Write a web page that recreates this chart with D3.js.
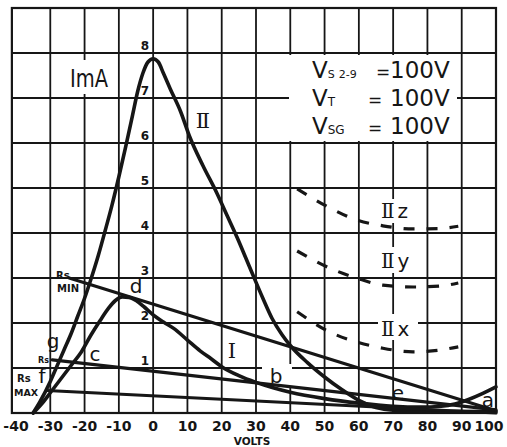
<!DOCTYPE html>
<html lang="en">
<head>
<meta charset="UTF-8">
<title>Tetrode characteristic</title>
<script src="https://d3js.org/d3.v7.min.js"></script>
<style>
  body, html { margin: 0; padding: 0; overflow: hidden; background: #fff; }
  svg { display: block; }
  text { font-family: "DejaVu Sans", sans-serif; fill: #151515; }
  .roman { font-family: "DejaVu Serif", serif; }
</style>
</head>
<body>
<svg width="507" height="447"></svg>
<script>
// ---- data (volts / mA) ----
const xTicks = [-40, -30, -20, -10, 0, 10, 20, 30, 40, 50, 60, 70, 80, 90, 100];
const yTicks = [1, 2, 3, 4, 5, 6, 7, 8];

const voltsII = [-35, -33, -30, -28, -26, -24, -22, -20, -18.5, -16, -14, -12, -10, -8, -6, -4.5, -3, -1.5, 0, 1.5, 3, 5, 8, 10.6, 14.5, 18.5, 21.5, 24.5, 27, 29.2, 32, 34.7, 37.5, 40, 45, 50, 55, 60, 65, 70, 80, 100];
const ampsII  = [0, 0.25, 0.7, 1.05, 1.4, 1.75, 2.15, 2.55, 2.89, 3.5, 4.05, 4.62, 5.25, 5.92, 6.62, 7.15, 7.55, 7.8, 7.87, 7.8, 7.55, 7.2, 6.7, 6.15, 5.5, 4.9, 4.4, 3.9, 3.45, 3.05, 2.55, 2.1, 1.75, 1.5, 1.12, 0.8, 0.52, 0.28, 0.12, 0.06, 0.04, 0.03];

const voltsI = [-35, -32, -30, -27, -24, -21, -18, -15.5, -13, -11, -9, -7, -5, -2.5, 0, 3, 6, 10, 13.7, 17, 20, 25, 30, 35, 40, 50, 60, 70, 78, 84, 88, 92, 96, 100];
const ampsI  = [0, 0.25, 0.45, 0.75, 1.05, 1.35, 1.75, 2.05, 2.33, 2.5, 2.58, 2.57, 2.5, 2.35, 2.18, 2.02, 1.88, 1.62, 1.38, 1.2, 1.03, 0.83, 0.68, 0.56, 0.46, 0.32, 0.22, 0.15, 0.13, 0.15, 0.2, 0.3, 0.43, 0.58];

const dashVolts = [42, 51.5, 59.3, 67, 75.8, 83.7, 89];
const ampsIIz = [4.98, 4.56, 4.29, 4.16, 4.09, 4.1, 4.15];
const ampsIIy = [3.6, 3.22, 3.0, 2.84, 2.8, 2.82, 2.89];
const ampsIIx = [2.25, 1.8, 1.58, 1.44, 1.36, 1.4, 1.47];

// load lines: [start volts, start mA, end volts, end mA]
const rsMin = [-24.5, 3.0, 100, 0.05];
const rsMid = [-29.4, 1.18, 100, 0.07];
const rsMax = [-31, 0.5, 100, 0.0];

const svg = d3.select("svg");
const x = d3.scaleLinear().domain([-40, 100]).range([16, 496]);
const y = d3.scaleLinear().domain([0, 9]).range([413, 8]);
const ink = "#161616";

// grid
const grid = svg.append("g").attr("stroke", ink).attr("stroke-width", 1.8);
grid.selectAll("line.v").data(d3.range(-30, 100, 10)).enter().append("line")
  .attr("x1", d => x(d)).attr("x2", d => x(d)).attr("y1", y(9)).attr("y2", y(0));
grid.selectAll("line.h").data(d3.range(1, 9)).enter().append("line")
  .attr("y1", d => y(d)).attr("y2", d => y(d)).attr("x1", x(-41.2)).attr("x2", x(100));
grid.append("rect").attr("x", x(-41.2)).attr("y", y(9))
  .attr("width", x(100) - x(-41.2)).attr("height", y(0) - y(9))
  .attr("fill", "none").attr("stroke-width", 2.2);

// white patches behind labels
const patches = [[66, 60, 46, 34], [289, 55, 168, 86], [378, 199, 40, 24], [378, 247, 40, 26], [378, 314, 40, 26], [262, 364, 30, 22]];
svg.selectAll("rect.patch").data(patches).enter().append("rect")
  .attr("x", d => d[0]).attr("y", d => d[1]).attr("width", d => d[2]).attr("height", d => d[3])
  .attr("fill", "#fff");

// curves
const line = d3.line().x(d => x(d[0])).y(d => y(d[1])).curve(d3.curveMonotoneX);
const curves = [[voltsII, ampsII], [voltsI, ampsI]];
svg.selectAll("path.curve").data(curves).enter().append("path")
  .attr("d", d => line(d[0].map((v, i) => [v, d[1][i]])))
  .attr("fill", "none").attr("stroke", ink).attr("stroke-width", 3.6)
  .attr("stroke-linejoin", "round").attr("stroke-linecap", "round");

svg.selectAll("line.load").data([rsMin, rsMid, rsMax]).enter().append("line")
  .attr("x1", d => x(d[0])).attr("y1", d => y(d[1])).attr("x2", d => x(d[2])).attr("y2", d => y(d[3]))
  .attr("stroke", ink).attr("stroke-width", 3.2).attr("stroke-linecap", "round");

svg.selectAll("path.dash").data([ampsIIz, ampsIIy, ampsIIx]).enter().append("path")
  .attr("d", d => line(dashVolts.map((v, i) => [v, d[i]])))
  .attr("fill", "none").attr("stroke", ink).attr("stroke-width", 3.2)
  .attr("stroke-dasharray", "11,12");

// axis labels
svg.selectAll("text.xt").data(xTicks).enter().append("text")
  .attr("x", d => Math.min(x(d), 489)).attr("y", 431).attr("text-anchor", "middle")
  .attr("font-size", 14).attr("font-weight", "bold")
  .text(d => d);
svg.append("text").attr("x", 252).attr("y", 445).attr("text-anchor", "middle")
  .attr("font-size", 10.5).attr("font-weight", "bold").text("VOLTS");
svg.selectAll("text.yt").data(yTicks).enter().append("text")
  .attr("x", x(-1.2)).attr("y", d => y(d) - 3).attr("text-anchor", "end")
  .attr("font-size", 12).attr("font-weight", "bold").text(d => d);

svg.append("text").attr("x", 70).attr("y", 87).attr("font-size", 25)
  .attr("textLength", 38).attr("lengthAdjust", "spacingAndGlyphs").text("ImA");

// V box
const vb = svg.append("g").attr("font-size", 23);
const l1 = vb.append("text").attr("x", 312).attr("y", 78);
l1.append("tspan").text("V");
l1.append("tspan").attr("font-size", 11).text("S");
l1.append("tspan").attr("font-size", 11).attr("dx", 4).text("2-9");
l1.append("tspan").attr("x", 376).attr("font-size", 17).text("=");
l1.append("tspan").attr("x", 390).text("100V");
const l2 = vb.append("text").attr("x", 312).attr("y", 106);
l2.append("tspan").text("V");
l2.append("tspan").attr("font-size", 12).text("T");
l2.append("tspan").attr("x", 368).attr("font-size", 17).text("=");
l2.append("tspan").attr("x", 390).text("100V");
const l3 = vb.append("text").attr("x", 312).attr("y", 134);
l3.append("tspan").text("V");
l3.append("tspan").attr("font-size", 12).text("SG");
l3.append("tspan").attr("x", 368).attr("font-size", 17).text("=");
l3.append("tspan").attr("x", 390).text("100V");

// roman numerals
svg.append("text").attr("class", "roman").attr("x", 203).attr("y", 128).attr("font-size", 21).attr("text-anchor", "middle").text("Ⅱ");
svg.append("text").attr("class", "roman").attr("x", 232).attr("y", 358).attr("font-size", 21).attr("text-anchor", "middle").text("Ⅰ");
const dashLabels = [["z", 218], ["y", 268], ["x", 336]];
dashLabels.forEach(d => {
  const t = svg.append("text").attr("x", 381).attr("y", d[1]).attr("font-size", 20);
  t.append("tspan").attr("class", "roman").text("Ⅱ");
  t.append("tspan").attr("dx", 3).text(d[0]);
});

// point letters
const letters = [["a", 488, 407], ["b", 276, 383], ["c", 95, 361], ["d", 136, 293], ["e", 398, 400], ["f", 42, 383], ["g", 53, 348]];
svg.selectAll("text.pt").data(letters).enter().append("text")
  .attr("x", d => d[1]).attr("y", d => d[2]).attr("text-anchor", "middle")
  .attr("font-size", 20).text(d => d[0]);

// Rs labels
const rs = svg.append("g").attr("font-size", 10).attr("font-weight", "bold");
rs.append("text").attr("x", 56).attr("y", 279).text("Rs");
rs.append("text").attr("x", 57).attr("y", 292).text("MIN");
rs.append("text").attr("x", 38).attr("y", 363).attr("font-size", 8).text("Rs");
rs.append("text").attr("x", 17).attr("y", 382).text("Rs");
rs.append("text").attr("x", 14).attr("y", 396).attr("font-size", 9.5).text("MAX");
</script>
</body>
</html>
